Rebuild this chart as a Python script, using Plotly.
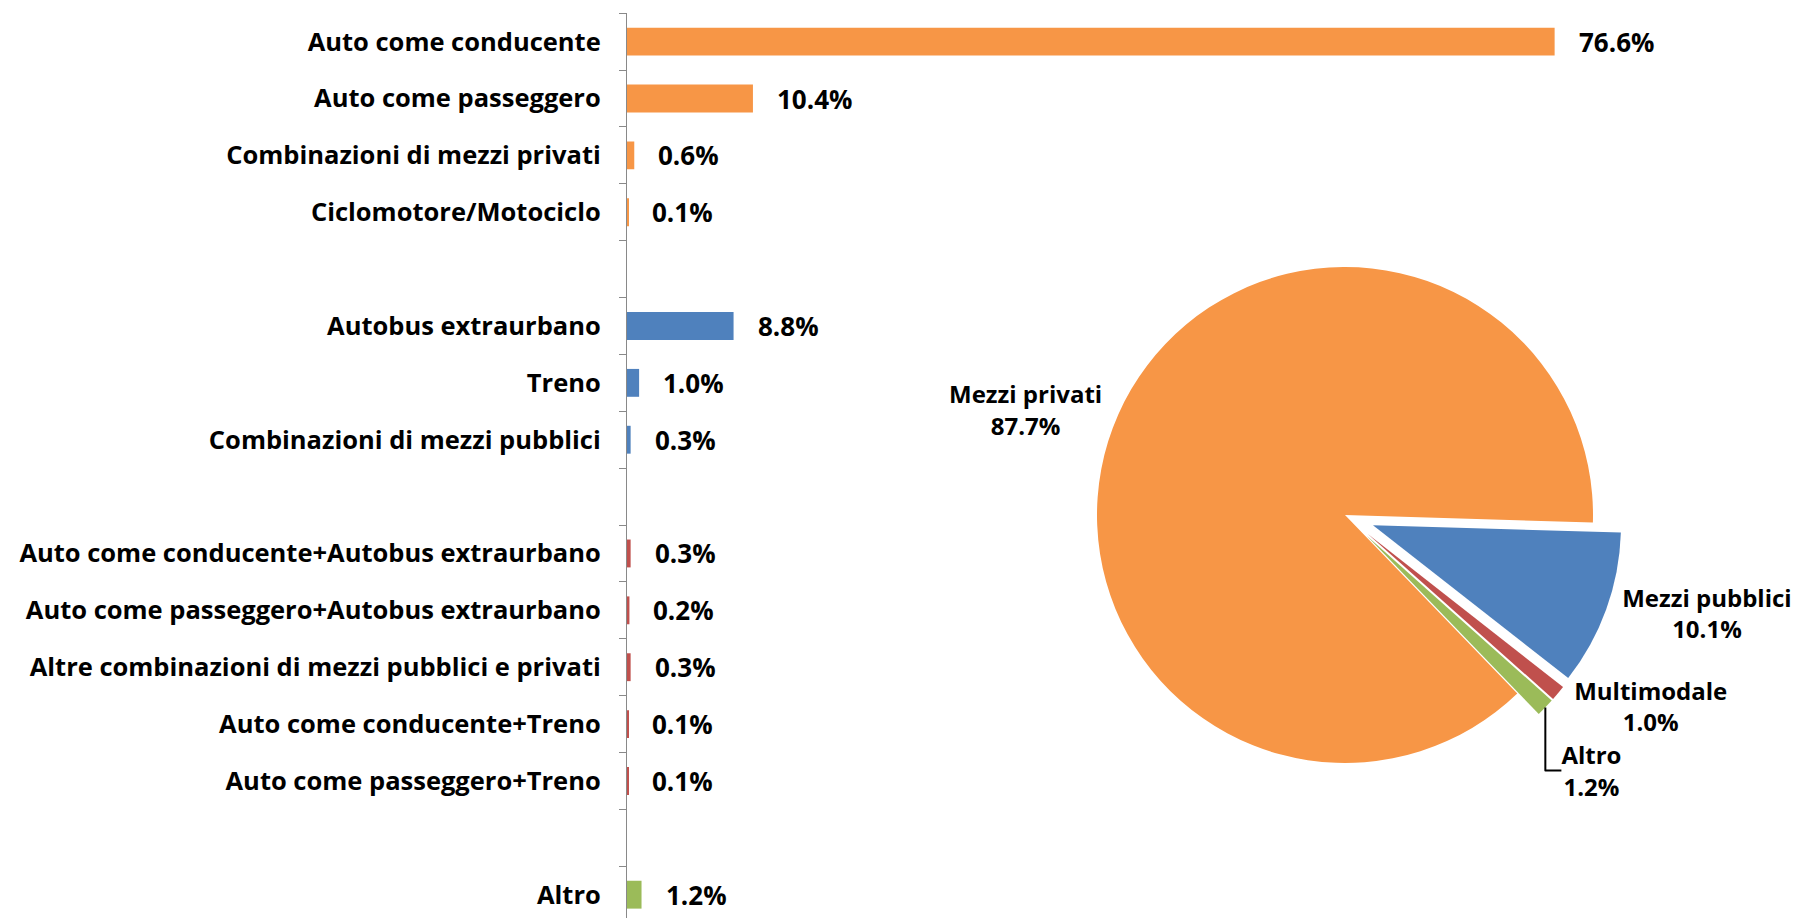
import plotly.graph_objects as go

# ---------------- data ----------------
private_labels = ["Auto come conducente", "Auto come passeggero",
                  "Combinazioni di mezzi privati", "Ciclomotore/Motociclo"]
private_values = [76.6, 10.4, 0.6, 0.1]

public_labels = ["Autobus extraurbano", "Treno", "Combinazioni di mezzi pubblici"]
public_values = [8.8, 1.0, 0.3]

multi_labels = ["Auto come conducente+Autobus extraurbano",
                "Auto come passeggero+Autobus extraurbano",
                "Altre combinazioni di mezzi pubblici e privati",
                "Auto come conducente+Treno",
                "Auto come passeggero+Treno"]
multi_values = [0.3, 0.2, 0.3, 0.1, 0.1]

other_labels = ["Altro"]
other_values = [1.2]

pie_labels = ["Mezzi privati", "Mezzi pubblici", "Multimodale", "Altro"]
pie_values = [87.7, 10.1, 1.0, 1.2]

# ---------------- styles ----------------
ORANGE, BLUE, RED, GREEN = "#F79646", "#4F81BD", "#C0504D", "#9BBB59"
FONT = "Open Sans"
W, H = 1810, 918

category_order = (private_labels + [" "] + public_labels + ["  "] +
                  multi_labels + ["   "] + other_labels)

fig = go.Figure()

groups = [(private_labels, private_values, ORANGE),
          (public_labels, public_values, BLUE),
          (multi_labels, multi_values, RED),
          (other_labels, other_values, GREEN)]

for labels, values, color in groups:
    fig.add_trace(go.Bar(
        y=labels, x=values, orientation="h",
        marker=dict(color=color, line=dict(width=0)),
        width=0.49, showlegend=False, hoverinfo="skip",
        xaxis="x", yaxis="y",
    ))
    for lab, v in zip(labels, values):
        fig.add_annotation(
            x=v, y=lab, xref="x", yref="y", text=f"{v:.1f}%",
            showarrow=False, xanchor="left", yanchor="middle", xshift=22,
            font=dict(family=FONT, size=26, color="#000000", weight="bold"),
        )

# pie placement (pixels)
cx, cy, r_base, pull = 1345, 515, 248, 0.12
half = r_base * (1 + pull)

fig.add_trace(go.Pie(
    labels=pie_labels, values=pie_values, sort=False,
    direction="clockwise", rotation=136,
    marker=dict(colors=[ORANGE, BLUE, RED, GREEN], line=dict(width=0)),
    pull=[0, pull, pull, pull],
    textposition="outside", textinfo="label+percent",
    texttemplate="%{label}<br>%{percent:.1%}",
    textfont=dict(family=FONT, size=24, color="#000000", weight="bold"),
    domain=dict(x=[(cx - half) / W, (cx + half) / W],
                y=[1 - (cy + half) / H, 1 - (cy - half) / H]),
    automargin=False,
    showlegend=False, hoverinfo="skip",
))

x0 = 627 / W
px_per_unit = 12.11
x1 = 0.92
xmax = (x1 - x0) * W / px_per_unit
slot = 56.87
top_px = 13.2
ybottom = -0.5 + (H - top_px) / slot

fig.update_layout(
    width=W, height=H, autosize=False,
    margin=dict(l=0, r=0, t=0, b=0, pad=0, autoexpand=False),
    paper_bgcolor="white", plot_bgcolor="white",
    xaxis=dict(domain=[x0, x1], range=[0, xmax], visible=False, fixedrange=True,
               automargin=False),
    yaxis=dict(
        domain=[0, 1 - top_px / H],
        type="category", categoryorder="array", categoryarray=category_order,
        range=[ybottom, -0.5], automargin=False,
        showline=True, linecolor="#898989", linewidth=1.3,
        ticks="outside", ticklen=7, tickcolor="#898989", tickwidth=1.3,
        tickson="boundaries", showgrid=False, zeroline=False,
        ticklabelstandoff=20,
        tickfont=dict(family=FONT, size=25.5, color="#000000", weight="bold"),
    ),
)

fig.write_html("out.html")

with open("out.html", "r", encoding="utf-8") as f:
    html = f.read()
html = html.replace(
    "<head>",
    "<head><style>html,body{margin:0;padding:0;overflow:hidden;}"
    ".modebar-container{display:none !important;}</style>", 1)
with open("out.html", "w", encoding="utf-8") as f:
    f.write(html)
